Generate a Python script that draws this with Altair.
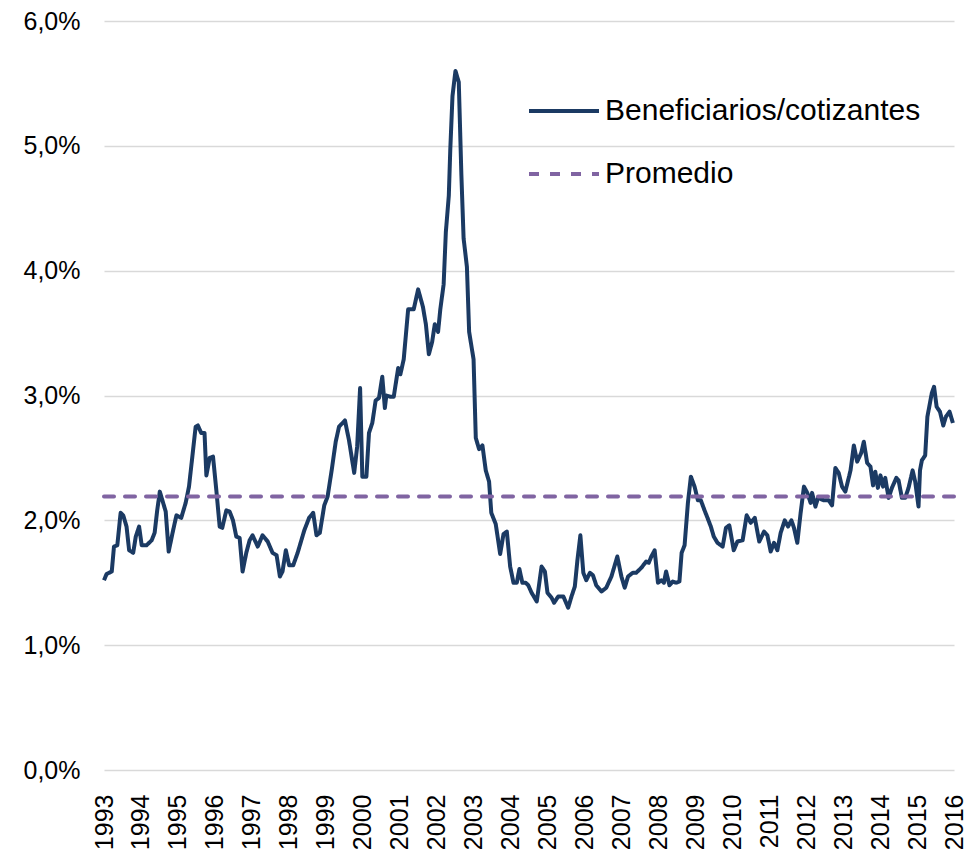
import altair as alt
import pandas as pd

serie = "Beneficiarios/cotizantes"
serie_prom = "Promedio"

fechas = [
    1993.00, 1993.07, 1993.21, 1993.27, 1993.36, 1993.45, 1993.52, 1993.61, 1993.68, 1993.79, 1993.86, 1993.95,
    1994.02, 1994.15, 1994.29, 1994.37, 1994.44, 1994.51, 1994.60, 1994.67, 1994.75, 1994.87, 1994.96,
    1995.09, 1995.21, 1995.30, 1995.39, 1995.48, 1995.54, 1995.63, 1995.72, 1995.77, 1995.86, 1995.95,
    1996.04, 1996.13, 1996.20, 1996.31, 1996.40, 1996.49, 1996.58, 1996.67, 1996.75, 1996.85, 1996.94,
    1997.02, 1997.16, 1997.29, 1997.43, 1997.56, 1997.67, 1997.76, 1997.83, 1997.92,
    1998.01, 1998.12, 1998.24, 1998.42, 1998.55, 1998.66, 1998.75, 1998.84, 1998.96,
    1999.05, 1999.16, 1999.27, 1999.36, 1999.52, 1999.63, 1999.77, 1999.85, 1999.93, 1999.99,
    2000.10, 2000.17, 2000.26, 2000.35, 2000.44, 2000.53, 2000.60, 2000.64, 2000.75, 2000.84, 2000.96,
    2001.02, 2001.11, 2001.23, 2001.38, 2001.50, 2001.63, 2001.71, 2001.79, 2001.88, 2001.95,
    2002.04, 2002.10, 2002.19, 2002.25, 2002.33, 2002.37, 2002.43, 2002.51, 2002.60, 2002.67, 2002.73, 2002.82, 2002.88,
    2003.00, 2003.06, 2003.15, 2003.24, 2003.33, 2003.42, 2003.48, 2003.60, 2003.72, 2003.81, 2003.90, 2003.99,
    2004.08, 2004.17, 2004.24, 2004.32, 2004.41, 2004.48, 2004.57, 2004.71, 2004.84, 2004.93,
    2005.00, 2005.11, 2005.18, 2005.29, 2005.43, 2005.56, 2005.65, 2005.74, 2005.81, 2005.89, 2005.97,
    2006.05, 2006.15, 2006.23, 2006.32, 2006.46, 2006.59, 2006.73, 2006.89,
    2007.00, 2007.09, 2007.18, 2007.31, 2007.40, 2007.54, 2007.67, 2007.74, 2007.81, 2007.90, 2007.99,
    2008.08, 2008.15, 2008.21, 2008.30, 2008.39, 2008.48, 2008.57, 2008.63, 2008.71, 2008.80, 2008.88, 2008.98,
    2009.07, 2009.15, 2009.25, 2009.33, 2009.42, 2009.50, 2009.60, 2009.74, 2009.83, 2009.92,
    2010.04, 2010.14, 2010.28, 2010.39, 2010.50, 2010.61, 2010.73, 2010.86, 2010.95,
    2011.04, 2011.13, 2011.22, 2011.31, 2011.42, 2011.51, 2011.60, 2011.67, 2011.76, 2011.85, 2011.94,
    2012.03, 2012.12, 2012.16, 2012.25, 2012.32, 2012.48, 2012.61, 2012.70, 2012.79, 2012.88, 2012.97,
    2013.06, 2013.20, 2013.29, 2013.38, 2013.49, 2013.56, 2013.65, 2013.74, 2013.81, 2013.87, 2013.94,
    2014.01, 2014.08, 2014.14, 2014.23, 2014.32, 2014.44, 2014.50, 2014.59, 2014.68, 2014.77, 2014.88, 2014.95,
    2015.04, 2015.08, 2015.13, 2015.22, 2015.28, 2015.40, 2015.46, 2015.53, 2015.62, 2015.71, 2015.78, 2015.88, 2015.97,
]

valores = [
    1.52, 1.57, 1.59, 1.79, 1.80, 2.06, 2.04, 1.95, 1.76, 1.74, 1.87, 1.95,
    1.80, 1.80, 1.84, 1.90, 2.08, 2.23, 2.14, 2.07, 1.75, 1.92, 2.04,
    2.02, 2.14, 2.27, 2.51, 2.75, 2.76, 2.70, 2.70, 2.36, 2.50, 2.51,
    2.24, 1.95, 1.94, 2.08, 2.07, 2.00, 1.87, 1.86, 1.59, 1.74, 1.84,
    1.88, 1.79, 1.88, 1.83, 1.74, 1.72, 1.55, 1.59, 1.76,
    1.64, 1.64, 1.74, 1.92, 2.02, 2.06, 1.88, 1.90, 2.12,
    2.19, 2.40, 2.63, 2.75, 2.80, 2.64, 2.38, 2.59, 3.06, 2.35,
    2.35, 2.70, 2.78, 2.96, 2.98, 3.15, 2.90, 3.00, 2.99, 2.99, 3.22,
    3.17, 3.29, 3.69, 3.69, 3.85, 3.71, 3.57, 3.33, 3.43, 3.57,
    3.51, 3.69, 3.89, 4.31, 4.60, 4.97, 5.40, 5.60, 5.51, 4.77, 4.26, 4.03, 3.51,
    3.29, 2.66, 2.57, 2.60, 2.40, 2.31, 2.06, 1.97, 1.73, 1.89, 1.91, 1.63,
    1.50, 1.50, 1.61, 1.50, 1.50, 1.48, 1.42, 1.35, 1.63, 1.59,
    1.42, 1.38, 1.34, 1.39, 1.39, 1.30, 1.39, 1.47, 1.68, 1.88, 1.58,
    1.52, 1.58, 1.56, 1.48, 1.43, 1.46, 1.55, 1.71,
    1.55, 1.46, 1.55, 1.58, 1.58, 1.62, 1.67, 1.66, 1.71, 1.76, 1.50,
    1.52, 1.50, 1.59, 1.48, 1.51, 1.50, 1.51, 1.74, 1.80, 2.14, 2.35, 2.27,
    2.16, 2.16, 2.08, 2.02, 1.95, 1.87, 1.82, 1.79, 1.94, 1.96,
    1.76, 1.83, 1.84, 2.04, 1.98, 2.02, 1.83, 1.91, 1.88,
    1.75, 1.82, 1.76, 1.90, 2.00, 1.95, 2.00, 1.94, 1.82, 2.06, 2.27,
    2.22, 2.14, 2.22, 2.11, 2.18, 2.16, 2.16, 2.12, 2.42, 2.38, 2.27,
    2.23, 2.40, 2.60, 2.47, 2.54, 2.63, 2.46, 2.43, 2.28, 2.39, 2.26,
    2.36, 2.27, 2.34, 2.18, 2.26, 2.34, 2.32, 2.18, 2.18, 2.26, 2.40, 2.31,
    2.11, 2.40, 2.48, 2.52, 2.83, 3.02, 3.07, 2.91, 2.87, 2.76, 2.83, 2.87, 2.78,
]

promedio = 2.19
anios = list(range(1993, 2017))
y_ticks = [0, 1, 2, 3, 4, 5, 6]

df = pd.DataFrame({"t": fechas, "v": valores, "s": serie})
df_prom = pd.DataFrame({"t": [anios[0], anios[-1]], "v": [promedio, promedio], "s": serie_prom})

FONT = "Liberation Sans"

color_scale = alt.Scale(domain=[serie, serie_prom], range=["#1b3a63", "#8064a2"])
dash_scale = alt.Scale(domain=[serie, serie_prom], range=[[1, 0], [10, 11]])

x_enc = alt.X(
    "t:Q",
    scale=alt.Scale(domain=[anios[0], anios[-1]], nice=False, zero=False),
    axis=alt.Axis(
        values=anios, format="d", labelAngle=270, grid=False, domain=False, ticks=False,
        labelPadding=24, labelFontSize=25, labelFont=FONT, labelColor="#000000",
        labelFlush=False, labelOverlap=False, title=None,
    ),
)
y_enc = alt.Y(
    "v:Q",
    scale=alt.Scale(domain=[0, 6], nice=False, zero=True),
    axis=alt.Axis(
        values=y_ticks, labelExpr="replace(format(datum.value, '.1f'), '.', ',') + '%'",
        grid=True, gridColor="#d9d9d9", gridWidth=1.5, domain=False, ticks=False,
        labelPadding=24, labelFontSize=25, labelFont=FONT, labelColor="#000000", title=None,
    ),
)
legend = alt.Legend(
    title=None, orient="none", legendX=423, legendY=53,
    symbolType="stroke", symbolSize=4900, symbolStrokeWidth=4,
    labelFontSize=30, labelFont=FONT, labelColor="#000000", labelOffset=4,
    labelLimit=0, rowPadding=11,
)
color_enc = alt.Color("s:N", scale=color_scale, legend=legend)
dash_enc = alt.StrokeDash("s:N", scale=dash_scale, legend=legend)

linea = alt.Chart(df).mark_line(strokeWidth=4, strokeJoin="round").encode(
    x=x_enc, y=y_enc, color=color_enc, strokeDash=dash_enc, order="t:Q"
)
prom = alt.Chart(df_prom).mark_line(strokeWidth=4, strokeCap="round").encode(
    x=x_enc, y=y_enc, color=color_enc, strokeDash=dash_enc
)

chart = (
    alt.layer(linea, prom)
    .properties(
        width=850, height=749,
        autosize=alt.AutoSizeParams(type="none"),
        padding={"left": 96, "top": 13, "right": 12, "bottom": 79},
    )
    .configure_view(stroke=None)
)

chart.save("out.html", embed_options={"renderer": "svg", "actions": False})
